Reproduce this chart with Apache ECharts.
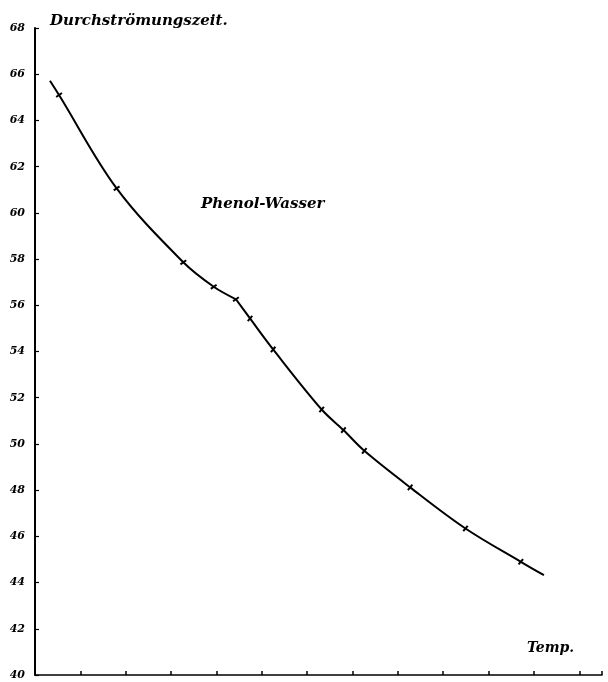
<!DOCTYPE html>
<html>
<head>
<meta charset="utf-8">
<script src="https://cdn.jsdelivr.net/npm/echarts@6/dist/echarts.min.js"></script>
<style>html,body{margin:0;padding:0;background:#fff;}#c{width:608px;height:682px;}</style>
</head>
<body>
<div id="c"></div>
<script>
// Data (x in tick units of the temperature axis)
var yTicks = [40, 42, 44, 46, 48, 50, 52, 54, 56, 58, 60, 62, 64, 66, 68];
var branch1X = [0.33, 0.53, 1.80, 3.27, 3.94, 4.43];
var branch1Y = [65.72, 65.10, 61.06, 57.86, 56.80, 56.26];
var branch2X = [4.43, 4.74, 5.25, 6.32, 6.80, 7.26, 8.27, 9.49, 10.71, 11.22];
var branch2Y = [56.26, 55.43, 54.09, 51.49, 50.60, 49.70, 48.12, 46.34, 44.90, 44.32];
var yTitle = 'Durchströmungszeit.';
var xTitle = 'Temp.';
var curveLabel = 'Phenol-Wasser';

function pairs(xs, ys) { return xs.map(function (x, i) { return [x, ys[i]]; }); }

var chart = echarts.init(document.getElementById('c'));
var font = '"DejaVu Serif", "Liberation Serif", serif';
var n2 = branch2X.length;
chart.setOption({
  backgroundColor: '#fff',
  animation: false,
  grid: { left: 35, top: 28, right: 6, bottom: 7, containLabel: false },
  xAxis: {
    type: 'value', min: 0, max: 12.5, interval: 1,
    axisLine: { show: true, lineStyle: { color: '#000', width: 1.5 } },
    axisTick: { show: true, inside: true, length: 4, lineStyle: { color: '#000', width: 1.5 } },
    axisLabel: { show: false },
    splitLine: { show: false }
  },
  yAxis: {
    type: 'value', min: yTicks[0], max: yTicks[yTicks.length - 1], interval: 2,
    axisLine: { show: true, lineStyle: { color: '#000', width: 2 } },
    axisTick: { show: true, inside: true, length: 4, lineStyle: { color: '#000', width: 1.2 } },
    axisLabel: {
      show: true, margin: 10, color: '#000', fontFamily: font, fontStyle: 'italic',
      fontWeight: 'bold', fontSize: 11, padding: [0, 0, 6, 0]
    },
    splitLine: { show: false }
  },
  series: [
    {
      type: 'line', data: pairs(branch1X, branch1Y), smooth: 0.35,
      lineStyle: { color: '#000', width: 2 },
      symbol: function (v, p) { return p.dataIndex === 0 ? 'none' : 'rect'; },
      symbolSize: [2, 7], symbolRotate: -55, showAllSymbol: true,
      itemStyle: { color: '#000' }
    },
    {
      type: 'line', data: pairs(branch2X, branch2Y), smooth: 0.35,
      lineStyle: { color: '#000', width: 2 },
      symbol: function (v, p) { return (p.dataIndex === 0 || p.dataIndex === n2 - 1) ? 'none' : 'rect'; },
      symbolSize: [2, 7], symbolRotate: -40, showAllSymbol: true,
      itemStyle: { color: '#000' }
    }
  ],
  graphic: [
    { type: 'text', left: 50, top: 14, style: { text: yTitle, fill: '#000', font: 'italic bold 15px ' + font } },
    { type: 'text', left: 201, top: 197, style: { text: curveLabel, fill: '#000', font: 'italic bold 15px ' + font } },
    { type: 'text', left: 527, top: 641, style: { text: xTitle, fill: '#000', font: 'italic bold 14px ' + font } }
  ]
});
</script>
</body>
</html>
